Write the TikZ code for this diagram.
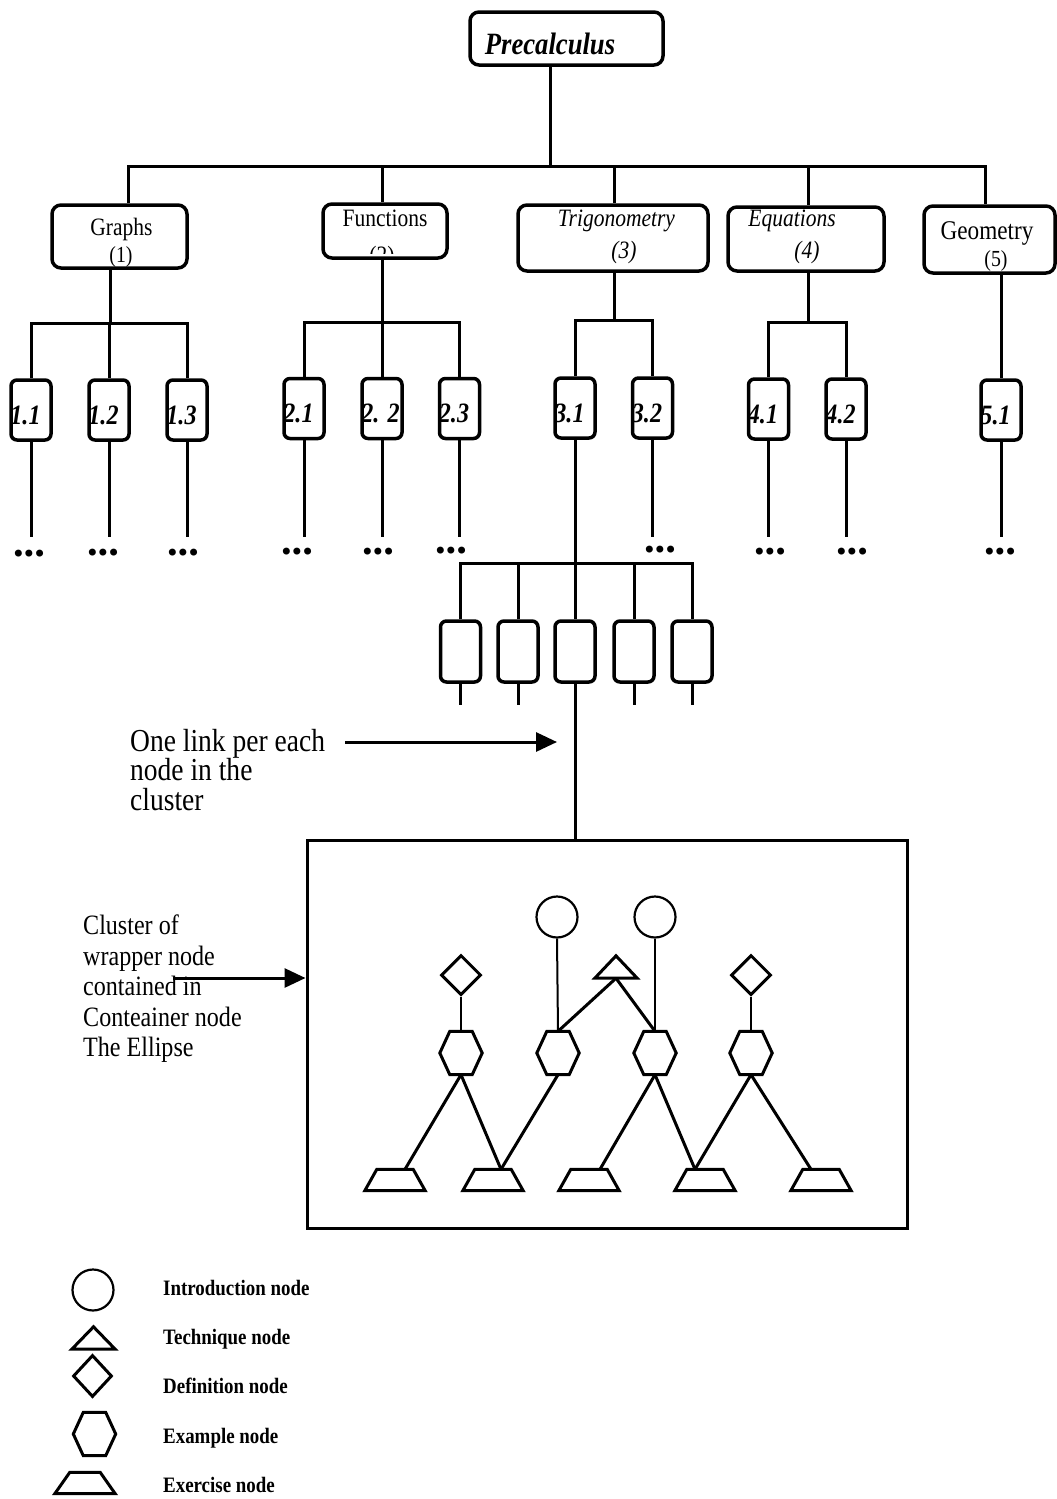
\documentclass[tikz,border=0pt]{standalone}
\usepackage{fontspec}
\setmainfont{Liberation Serif}[FakeStretch=0.86]
\newfontfamily\dotfont{DejaVu Sans}
\usetikzlibrary{shapes.geometric,arrows.meta}
\newcommand\traplines[2]{\draw[shp] (#1.south west) -- (#1.south east) -- ([xshift=-#2]#1.north east) -- ([xshift=#2]#1.north west) -- cycle;}
\newcommand\trilines[1]{\draw[shp] (#1.south west) -- (#1.south east) -- (#1.north) -- cycle;}
\newcommand\hexlines[1]{\draw[shp] (#1.west) -- ([xshift=10pt]#1.north west) -- ([xshift=-10pt]#1.north east) -- (#1.east) -- ([xshift=-10pt]#1.south east) -- ([xshift=10pt]#1.south west) -- cycle;}
\newcommand\threedots{•\kern-3.5pt•\kern-3.5pt•}
\begin{document}
\begin{tikzpicture}[x=1pt,y=-1pt,
  rbox/.style={draw, line width=3.5pt, rounded corners=9pt, inner sep=0pt},
  sbox/.style={draw, line width=3.5pt, rounded corners=6pt, inner sep=0pt, minimum width=40pt, minimum height=60pt},
  conn/.style={line width=3pt},
  thinc/.style={line width=2pt},
  shp/.style={line width=3pt, line join=miter},
  arr/.style={line width=3pt, -{Triangle[length=21pt,width=19pt]}},
  lbl/.style={inner sep=0pt, anchor=base, font=\fontsize{25}{25}\selectfont},
  ilbl/.style={inner sep=0pt, anchor=base, font=\itshape\fontsize{25}{25}\selectfont},
  slbl/.style={inner sep=0pt, anchor=base west, font=\bfseries\itshape\fontsize{28}{28}\selectfont},
  dots/.style={inner sep=0pt, font=\dotfont\fontsize{24}{24}\selectfont},
  circ/.style={circle, draw, line width=2.2pt, minimum size=41pt, inner sep=0pt},
  dia/.style={diamond, draw, line width=3pt, minimum width=40pt, minimum height=40pt, inner sep=0pt},
  hexa/.style={rectangle, inner sep=0pt, minimum width=42pt, minimum height=43pt},
  trap/.style={rectangle, inner sep=0pt, minimum width=60pt, minimum height=21pt},
  tri/.style={rectangle, inner sep=0pt, minimum width=42pt, minimum height=22pt},
  leg/.style={anchor=base west, inner sep=0pt, font=\bfseries\fontsize{22}{22}\selectfont},
  ann/.style={align=left, inner sep=0pt, anchor=north west}
]
\useasboundingbox (0,0) rectangle (1057,1499);

% ---------- top ----------
\node[rbox, minimum width=193pt, minimum height=53pt] (pre) at (566.5,38.5) {};
\node[inner sep=0pt, anchor=base, font=\bfseries\itshape\fontsize{31}{31}\selectfont] (pret) at (550,54) {Precalculus};

\node[rbox, minimum width=135pt, minimum height=63pt] (g) at (119.5,236.5) {};
\node[rbox, minimum width=124pt, minimum height=54pt] (f) at (385,231) {};
\node[rbox, minimum width=190pt, minimum height=66pt] (t) at (613,238) {};
\node[rbox, minimum width=156pt, minimum height=64pt] (e) at (806,239) {};
\node[rbox, minimum width=131pt, minimum height=67pt] (ge) at (989.5,239.5) {};

\node[lbl] (gt1) at (121.5,235) {Graphs};
\node[lbl, font=\fontsize{23}{23}\selectfont] (gt2) at (121,262) {(1)};
\node[lbl] (ft1) at (385,226) {Functions};
\begin{scope}
  \clip (330,228) rectangle (440,253);
  \node[lbl] (ft2) at (382,263) {(2)};
\end{scope}
\node[ilbl] (tt1) at (616.5,226) {Trigonometry};
\node[ilbl] (tt2) at (624,258) {(3)};
\node[ilbl] (et1) at (792,226) {Equations};
\node[ilbl] (et2) at (807,258) {(4)};
\node[lbl, font=\fontsize{27}{27}\selectfont] (get1) at (987,239) {Geometry};
\node[lbl, font=\fontsize{23}{23}\selectfont] (get2) at (996,266) {(5)};

\coordinate (j0) at (550,166);
\coordinate (gtop) at (128,166);
\coordinate (ftop) at (382,166);
\coordinate (ttop) at (614,166);
\coordinate (etop) at (808,166);
\coordinate (getop) at (985,166);
\draw[conn] (j0 |- pre.south) -- (j0);
\draw[conn] (gtop |- g.north) -- (gtop) -- (getop) -- (getop |- ge.north);
\draw[conn] (ftop) -- (ftop |- f.north);
\draw[conn] (ttop) -- (ttop |- t.north);
\draw[conn] (etop) -- (etop |- e.north);

% ---------- level 2 ----------
\node[sbox] (b11) at (31,410) {};
\node[sbox] (b12) at (109,410) {};
\node[sbox] (b13) at (187,410) {};
\node[sbox] (b21) at (304,408.5) {};
\node[sbox] (b22) at (382,408.5) {};
\node[sbox] (b23) at (459.5,408.5) {};
\node[sbox] (b31) at (575,408) {};
\node[sbox] (b32) at (652.5,408) {};
\node[sbox] (b41) at (768.5,409) {};
\node[sbox] (b42) at (846,409) {};
\node[sbox] (b51) at (1001,410) {};

\foreach \b/\s in {b11/1.1, b12/1.2, b13/1.3, b21/2.1, b22/{2. 2}, b23/2.3, b31/3.1, b32/3.2, b41/4.1, b42/4.2, b51/5.1}
  {\node[slbl] (\b l) at ([xshift=1pt,yshift=-14pt]\b.west) {\s};}

\coordinate (gb) at (110,323);
\coordinate (fb) at (382,322);
\coordinate (tb) at (614,320);
\coordinate (eb) at (808,322);
\draw[conn] (gb |- g.south) -- (gb);
\draw[conn] (b11.north) |- (gb) -| (b13.north);
\draw[conn] (b12.north) -- (b12.north |- gb);
\draw[conn] (fb |- f.south) -- (fb);
\draw[conn] (b21.north) |- (fb) -| (b23.north);
\draw[conn] (b22.north) -- (b22.north |- fb);
\draw[conn] (tb |- t.south) -- (tb);
\draw[conn] (b31.north) |- (tb) -| (b32.north);
\draw[conn] (eb |- e.south) -- (eb);
\draw[conn] (b41.north) |- (eb) -| (b42.north);
\draw[conn] (b51.north |- ge.south) -- (b51.north);

% stems and dots
\coordinate (dotrow) at (0,537);
\foreach \b in {b11,b12,b13,b21,b22,b23,b32,b41,b42,b51}
  {\draw[conn] (\b.south) -- (\b.south |- dotrow);}
\node[dots] (d11) at (29,556) {\threedots};
\node[dots] (d12) at (103,555) {\threedots};
\node[dots] (d13) at (183,555) {\threedots};
\node[dots] (d21) at (297,554) {\threedots};
\node[dots] (d22) at (378,554) {\threedots};
\node[dots] (d23) at (451,553) {\threedots};
\node[dots] (d32) at (660,552) {\threedots};
\node[dots] (d41) at (770,554) {\threedots};
\node[dots] (d42) at (852,554) {\threedots};
\node[dots] (d51) at (1000,554) {\threedots};

% ---------- cluster of wrapper nodes ----------
\node[sbox, minimum height=61pt] (k1) at (460.5,651.5) {};
\node[sbox, minimum height=61pt] (k2) at (518,651.5) {};
\node[sbox, minimum height=61pt] (k3) at (575,651.5) {};
\node[sbox, minimum height=61pt] (k4) at (634,651.5) {};
\node[sbox, minimum height=61pt] (k5) at (692,651.5) {};
\coordinate (cb) at (575,563);
\coordinate (stub) at (0,705);
\draw[conn] (b31.south) -- (cb) -- (k3.north);
\draw[conn] (k1.north) |- (cb) -| (k5.north);
\draw[conn] (k2.north) -- (k2.north |- cb);
\draw[conn] (k4.north) -- (k4.north |- cb);
\foreach \k in {k1,k2,k4,k5}
  {\draw[conn] (\k.south) -- (\k.south |- stub);}

% ---------- container ----------
\node[draw, line width=3pt, minimum width=600pt, minimum height=388pt, inner sep=0pt] (cont) at (607,1034) {};
\draw[conn] (k3.south) -- (k3.south |- cont.north);

% annotations
\node[ann, font=\fontsize{32}{29.5}\selectfont] (txt1) at (130,729) {One link per each\\node in the\\cluster};
\coordinate (a1s) at (345,742);
\coordinate (a1e) at (557,742);
\draw[arr] (a1s) -- (a1e);

\node[ann, font=\fontsize{28}{30.5}\selectfont] (txt2) at (83,915) {Cluster of\\wrapper node\\contained in\\Conteainer node\\The Ellipse};
\coordinate (a2s) at (173,978);
\draw[arr] (a2s) -- (a2s -| cont.west);

% shapes inside container
\node[circ] (c1) at (557,917) {};
\node[circ] (c2) at (655,917) {};
\node[dia] (d1) at (461,975) {};
\node[dia] (d2) at (751,975) {};
\node[tri] (tr) at (616,967) {};
\trilines{tr}
\node[hexa] (h1) at (461,1053) {};
\node[hexa] (h2) at (558,1053) {};
\node[hexa] (h3) at (655,1053) {};
\node[hexa] (h4) at (751,1053) {};
\foreach \h in {h1,h2,h3,h4} {\hexlines{\h}}
\node[trap] (x1) at (395,1180) {};
\node[trap] (x2) at (493,1180) {};
\node[trap] (x3) at (589,1180) {};
\node[trap] (x4) at (705,1180) {};
\node[trap] (x5) at (821,1180) {};
\foreach \x in {x1,x2,x3,x4,x5} {\traplines{\x}{12pt}}

\draw[thinc] (d1.south) -- (h1.north);
\draw[thinc] (c1.south) -- (h2.north);
\draw[thinc] (c2.south) -- (h3.north);
\draw[thinc] (d2.south) -- (h4.north);
\draw[conn] (tr.south) -- (h2.north);
\draw[conn] (tr.south) -- (h3.north);
\draw[conn] (h1.south) -- ([xshift=10pt]x1.north);
\draw[conn] (h1.south) -- ([xshift=8pt]x2.north);
\draw[conn] (h2.south) -- ([xshift=8pt]x2.north);
\draw[conn] (h3.south) -- ([xshift=11pt]x3.north);
\draw[conn] (h3.south) -- ([xshift=-10pt]x4.north);
\draw[conn] (h4.south) -- ([xshift=-10pt]x4.north);
\draw[conn] (h4.south) -- ([xshift=-10pt]x5.north);

% ---------- legend ----------
\node[circ] (lc) at (93,1290) {};
\node[tri, minimum width=43pt] (lt) at (93.5,1338) {};
\trilines{lt}
\node[dia, minimum width=39pt, minimum height=42pt] (ld) at (92.5,1376) {};
\node[hexa] (lh) at (94.5,1434) {};
\hexlines{lh}
\node[trap] (lx) at (85,1483) {};
\traplines{lx}{15pt}
\node[leg] (l1) at (163,1295) {Introduction node};
\node[leg] (l2) at (163,1344) {Technique node};
\node[leg] (l3) at (163,1393) {Definition node};
\node[leg] (l4) at (163,1443) {Example node};
\node[leg] (l5) at (163,1492) {Exercise node};
\end{tikzpicture}
\end{document}
